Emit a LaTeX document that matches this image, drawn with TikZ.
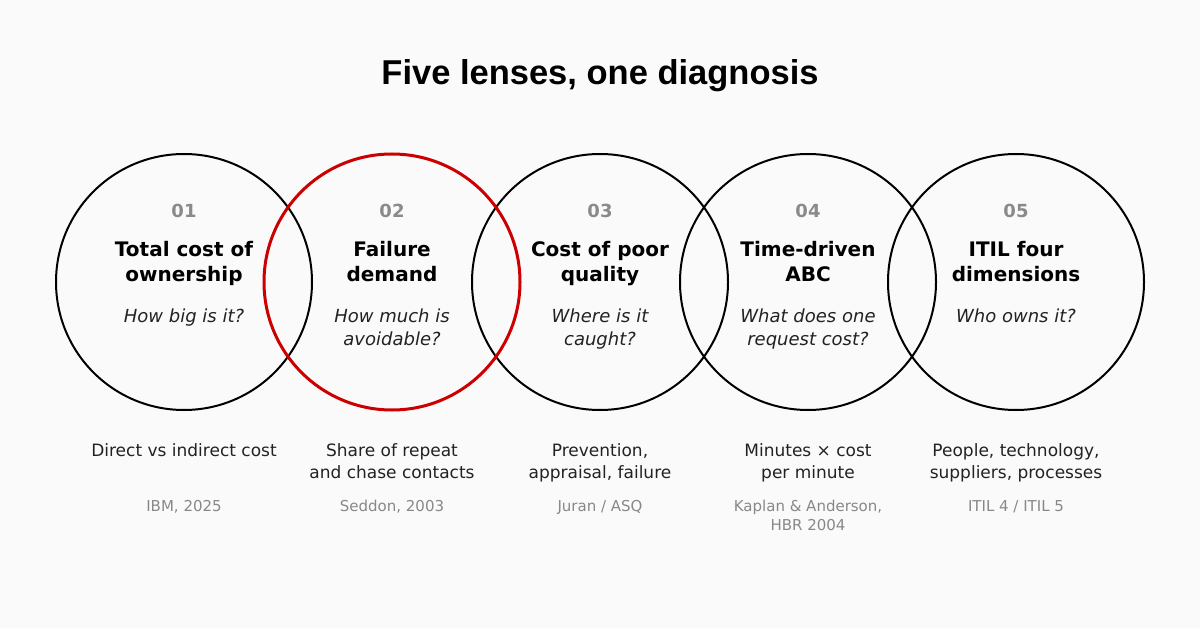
\documentclass[tikz,border=0pt]{standalone}
\usepackage{fontspec}
\setmainfont{DejaVu Sans}
\newfontfamily\titlefont{Liberation Sans}
\definecolor{bg}{HTML}{FAFAFA}
\definecolor{num}{HTML}{8A8A8A}
\definecolor{txt}{HTML}{222222}
\definecolor{src}{HTML}{888888}
\definecolor{red}{HTML}{CC0000}
\begin{document}
\begin{tikzpicture}[x=1pt,y=-1pt,
  ring/.style={draw=black,line width=2pt},
  hot/.style={draw=red,line width=3pt},
  numl/.style={text=num,font=\fontsize{18}{22}\selectfont\bfseries},
  head/.style={align=center,font=\fontsize{20}{24.5}\selectfont\bfseries},
  ques/.style={align=center,text=txt,font=\fontsize{18}{23.5}\selectfont\itshape},
  desc/.style={align=center,text=txt,font=\fontsize{17}{22.5}\selectfont},
  srcl/.style={align=center,text=src,font=\fontsize{15}{18.5}\selectfont}]
\fill[bg] (0,0) rectangle (1200,628);
\useasboundingbox (0,0) rectangle (1200,628);
\node (title) at (600,76) {\titlefont\fontsize{34.5}{40}\selectfont\bfseries Five lenses, one diagnosis};
\foreach \i/\x in {1/184,2/392,3/600,4/808,5/1016}{
  \coordinate (c\i) at (\x,282);
}
\draw[ring] (c1) circle (128);
\draw[ring] (c3) circle (128);
\draw[ring] (c4) circle (128);
\draw[ring] (c5) circle (128);
\draw[hot] (c2) circle (128);
\foreach \i/\x/\n/\h/\q/\d/\s in {
 1/184/01/{Total cost of\\ownership}/{How big is it?}/{Direct vs indirect cost}/{IBM, 2025},
 2/392/02/{Failure\\demand}/{How much is\\avoidable?}/{Share of repeat\\and chase contacts}/{Seddon, 2003},
 3/600/03/{Cost of poor\\quality}/{Where is it\\caught?}/{Prevention,\\appraisal, failure}/{Juran / ASQ},
 4/808/04/{Time-driven\\ABC}/{What does one\\request cost?}/{Minutes × cost\\per minute}/{Kaplan \& Anderson,\\HBR 2004},
 5/1016/05/{ITIL four\\dimensions}/{Who owns it?}/{People, technology,\\suppliers, processes}/{ITIL 4 / ITIL 5}}{
  \node[numl] (n\i) at (\x,211) {\n};
  \node[head,anchor=north] (h\i) at (\x,238) {\h};
  \node[ques,anchor=north] (q\i) at (\x,305) {\q};
  \node[desc,anchor=north] (d\i) at (\x,440) {\d};
  \node[srcl,anchor=north] (s\i) at (\x,497) {\s};
}
\end{tikzpicture}
\end{document}
